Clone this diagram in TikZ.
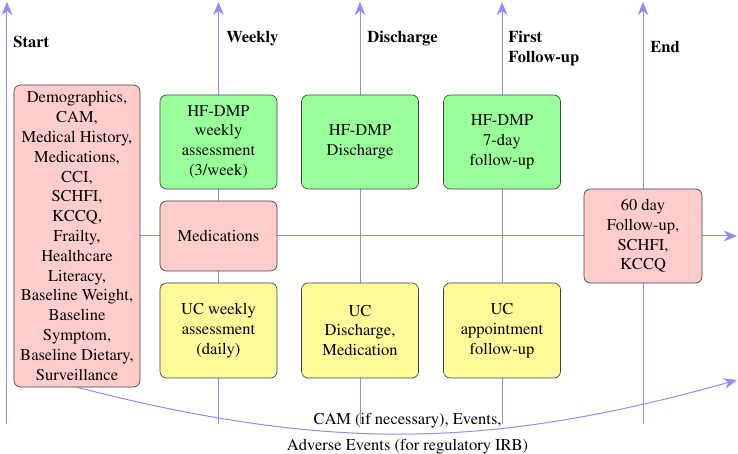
\documentclass[tikz,border=0pt]{standalone}
\usepackage[T1]{fontenc}
\usepackage{times}
\usetikzlibrary{arrows.meta,backgrounds}

\begin{document}
\begin{tikzpicture}[
    box/.style={draw=black!75,rounded corners=4pt,align=center,inner sep=2pt},
    pinkbox/.style={box,fill=red!20},
    greenbox/.style={box,fill=green!40,minimum width=2.492cm,minimum height=2.002cm},
    yellowbox/.style={box,fill=yellow!40,minimum width=2.492cm,minimum height=2.024cm},
    axis/.style={draw=blue!45,semithick,-{Stealth[length=8pt,width=6.5pt]}},
    stage/.style={font=\bfseries,anchor=west,inner sep=0pt,align=left}]
\useasboundingbox (0,0) rectangle (15.721,9.671);
\node[pinkbox,minimum width=2.684cm,minimum height=6.433cm] (base) at (1.640,4.644)
    {Demographics,\\CAM,\\Medical History,\\Medications,\\CCI,\\SCHFI,\\KCCQ,\\Frailty,\\Healthcare\\Literacy,\\Baseline Weight,\\Baseline\\Symptom,\\Baseline Dietary,\\Surveillance};
\node[greenbox] (hfweek) at (4.654,6.646) {HF-DMP\\weekly\\assessment\\(3/week)};
\node[greenbox] (hfdis) at (7.669,6.646) {HF-DMP\\Discharge};
\node[greenbox] (hffol) at (10.694,6.646) {HF-DMP\\7-day\\follow-up};
\node[pinkbox,minimum width=2.492cm,minimum height=1.491cm] (meds) at (4.654,4.644) {Medications};
\node[yellowbox] (ucweek) at (4.654,2.631) {UC weekly\\assessment\\(daily)};
\node[yellowbox] (ucdis) at (7.669,2.631) {UC\\Discharge,\\Medication};
\node[yellowbox] (ucfol) at (10.694,2.631) {UC\\appointment\\follow-up};
\node[pinkbox,minimum width=2.514cm,minimum height=2.002cm] (final) at (13.697,4.644) {60 day\\Follow-up,\\SCHFI,\\KCCQ};

\node[stage] (start) at (0.277,8.776) {Start};
\node[stage] (weekly) at (4.814,8.851) {Weekly};
\node[stage] (discharge) at (7.818,8.851) {Discharge};
\node[stage] (first) at (10.821,8.638) {First\\Follow-up};
\node[stage] (end) at (13.846,8.670) {End};

\coordinate (startbot) at (0.149,0.639);
\coordinate (starttop) at (0.149,9.629);
\coordinate (weeklybot) at (4.654,0.639);
\coordinate (weeklytop) at (4.654,9.629);
\coordinate (disbot) at (7.669,0.639);
\coordinate (distop) at (7.669,9.629);
\coordinate (folbot) at (10.694,0.639);
\coordinate (foltop) at (10.694,9.629);
\coordinate (endbot) at (13.697,0.639);
\coordinate (endtop) at (13.697,9.629);
\coordinate (medsend) at (15.700,4.644);
\coordinate (eventsend) at (15.700,1.576);

\begin{scope}[on background layer]
\draw[axis] (startbot) -- (starttop);
\draw[axis] (weeklybot) -- (weeklytop);
\draw[axis] (disbot) -- (distop);
\draw[axis] (folbot) -- (foltop);
\draw[axis] (endbot) -- (endtop);
\draw[axis] (base.east) -- (medsend);
\draw[axis] (base.south) to[bend right=15]
    node[midway,above] (cam) {CAM (if necessary), Events,}
    node[midway,below] (adverse) {Adverse Events (for regulatory IRB)} (eventsend);
\end{scope}
\end{tikzpicture}
\end{document}
